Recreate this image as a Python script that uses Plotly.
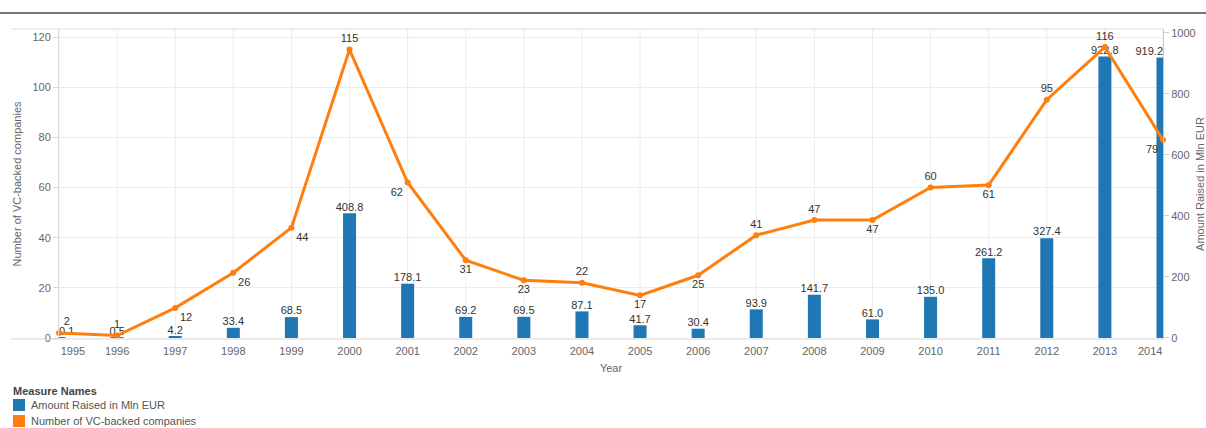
import plotly.graph_objects as go

years = list(range(1995, 2015))
amount_mln_eur = [0.1, 0.5, 4.2, 33.4, 68.5, 408.8, 178.1, 69.2, 69.5, 87.1,
                  41.7, 30.4, 93.9, 141.7, 61.0, 135.0, 261.2, 327.4, 922.8, 919.2]
companies = [2, 1, 12, 26, 44, 115, 62, 31, 23, 22,
             17, 25, 41, 47, 47, 60, 61, 95, 116, 79]
left_ticks = [0, 20, 40, 60, 80, 100, 120]
right_ticks = [0, 200, 400, 600, 800, 1000]
measure_names = ["Amount Raised in Mln EUR", "Number of VC-backed companies"]

BLUE = "#1f77b4"
ORANGE = "#ff7f0e"
FONT = "Liberation Sans, Arial, sans-serif"
W, H = 1206, 428
L, R, T, B = 59, 43, 29, 89
PW, PH = W - L - R, H - T - B


def px_x(x):
    return (x - L) / PW


def px_y(y):
    return (H - B - y) / PH


# label placement (styles only)
line_pos = []
for y in years:
    if y == 1995:
        line_pos.append("top right")
    elif y == 2014 or y == 2001:
        line_pos.append("bottom left")
    elif y in (1996, 2000, 2004, 2007, 2008, 2010, 2012, 2013):
        line_pos.append("top center")
    elif y in (1997, 1998, 1999):
        line_pos.append("bottom right")
    else:
        line_pos.append("bottom center")

bar_pos = []
for y in years:
    if y == years[0]:
        bar_pos.append("top right")
    elif y == years[-1]:
        bar_pos.append("top left")
    else:
        bar_pos.append("top center")

fig = go.Figure()

fig.add_trace(go.Bar(
    x=years, y=amount_mln_eur, width=0.224, marker_color=BLUE,
    marker_line_width=0, name=measure_names[0], yaxis="y", hoverinfo="skip",
))
fig.add_trace(go.Scatter(
    x=years, y=amount_mln_eur, mode="text", yaxis="y",
    text=[f"{v:.1f}" for v in amount_mln_eur], textposition=bar_pos,
    textfont=dict(family=FONT, size=11, color="#333333"),
    cliponaxis=False, hoverinfo="skip",
))
fig.add_trace(go.Scatter(
    x=years, y=companies, mode="lines+markers+text", yaxis="y2",
    name=measure_names[1],
    line=dict(color=ORANGE, width=3), marker=dict(color=ORANGE, size=6),
    text=[str(v) for v in companies], textposition=line_pos,
    textfont=dict(family=FONT, size=11, color="#333333"),
    cliponaxis=False, hoverinfo="skip",
))

tick_labels_pos = []
for y in years:
    if y == years[0]:
        tick_labels_pos.append(y + 0.24)
    elif y == years[-1]:
        tick_labels_pos.append(y - 0.22)
    else:
        tick_labels_pos.append(y)

fig.update_layout(
    width=W, height=H,
    margin=dict(l=L, r=R, t=T, b=B, autoexpand=False),
    paper_bgcolor="white", plot_bgcolor="white",
    font=dict(family=FONT, size=11, color="#666666"),
    showlegend=False,
    xaxis=dict(
        range=[1995, 2014], tickmode="array", tickvals=tick_labels_pos,
        ticktext=[str(y) for y in years], showgrid=False, zeroline=False,
        showline=False, ticks="", automargin=False, ticklabelstandoff=4,
        tickfont=dict(size=11, color="#666666"),
        title=dict(text="Year", font=dict(size=11, color="#666666"), standoff=8),
    ),
    yaxis=dict(
        side="right", range=[-3.3, 1013], tickmode="array", tickvals=right_ticks,
        showgrid=False, zeroline=False, showline=True, linecolor="#c8c8c8",
        ticks="outside", ticklen=5, tickcolor="#d0d0d0", automargin=False,
        tickfont=dict(size=11, color="#666666"),
        title=dict(text="Amount Raised in Mln EUR", font=dict(size=11, color="#666666")),
    ),
    yaxis2=dict(
        side="left", overlaying="y", range=[-0.4, 123.2], tickmode="array",
        tickvals=left_ticks, showgrid=True, gridcolor="#ececec", zeroline=False,
        showline=True, linecolor="#dddddd", ticks="outside", ticklen=5,
        tickcolor="#d8d8d8", automargin=False,
        tickfont=dict(size=11, color="#666666"),
        title=dict(text="Number of VC-backed companies", font=dict(size=11, color="#666666"),
                   standoff=8),
    ),
)

shapes = []
# vertical year grid lines drawn below data
for y in years:
    shapes.append(dict(type="line", xref="x", yref="paper", x0=y, x1=y, y0=0, y1=1,
                       line=dict(color="#ececec", width=1), layer="below"))
# pane borders extending under the left labels
shapes.append(dict(type="line", xref="paper", yref="paper", x0=px_x(11), x1=1, y0=1, y1=1,
                   line=dict(color="#dddddd", width=1)))
shapes.append(dict(type="line", xref="paper", yref="paper", x0=px_x(11), x1=1, y0=0, y1=0,
                   line=dict(color="#d6d6d6", width=1)))
# dark top rule
shapes.append(dict(type="line", xref="paper", yref="paper", x0=px_x(0), x1=px_x(W),
                   y0=px_y(13), y1=px_y(13), line=dict(color="#777777", width=2)))

# legend (Tableau style colour legend)
annotations = [dict(
    text="<b>Measure Names</b>", xref="paper", yref="paper", x=px_x(11), y=px_y(391),
    xanchor="left", yanchor="middle", showarrow=False,
    font=dict(family=FONT, size=11, color="#444444"),
)]
for i, (name, col) in enumerate(zip(measure_names, [BLUE, ORANGE])):
    cy = 405 + 16 * i
    shapes.append(dict(type="rect", xref="paper", yref="paper",
                       x0=px_x(13), x1=px_x(25), y0=px_y(cy - 6), y1=px_y(cy + 6),
                       fillcolor=col, line=dict(width=0)))
    annotations.append(dict(
        text=name, xref="paper", yref="paper", x=px_x(29), y=px_y(cy),
        xanchor="left", yanchor="middle", showarrow=False,
        font=dict(family=FONT, size=11, color="#555555"),
    ))

fig.update_layout(shapes=shapes, annotations=annotations)

fig.write_html(
    "out.html",
    config={"displayModeBar": False},
    post_script="document.body.style.margin='0px';document.body.style.overflow='hidden';",
)
